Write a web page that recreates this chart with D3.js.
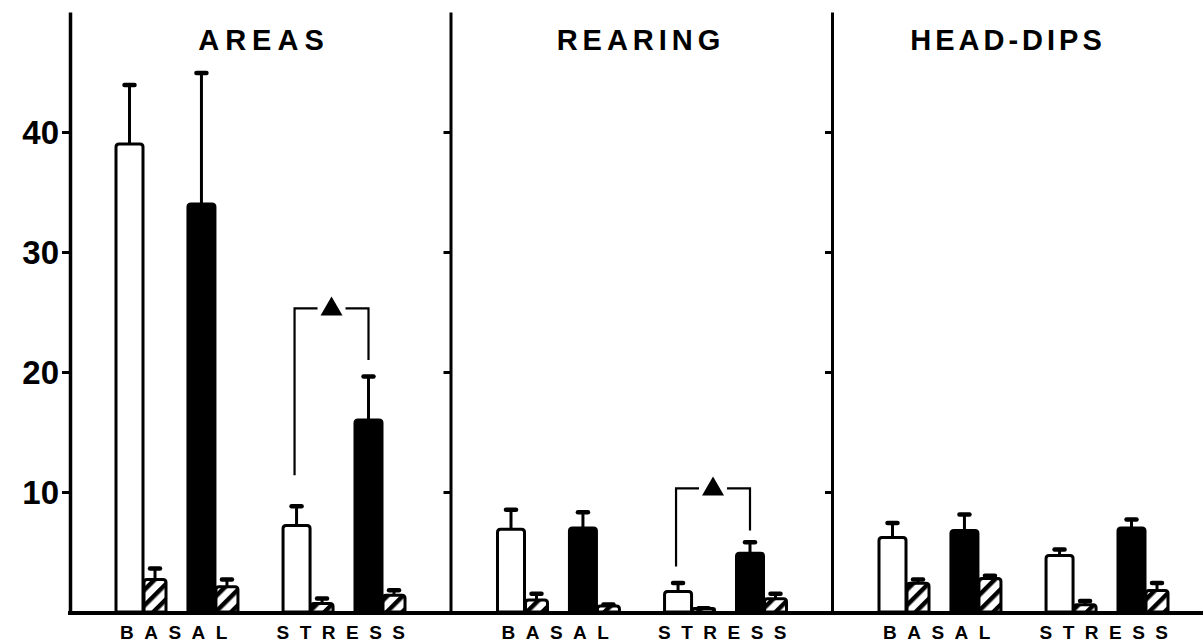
<!DOCTYPE html>
<html><head><meta charset="utf-8">
<script src="https://cdn.jsdelivr.net/npm/d3@7"></script>
<style>html,body{margin:0;padding:0;background:#fff;overflow:hidden} svg{display:block}</style>
</head><body>
<svg id="chart" width="1203" height="644"></svg>
<script>
// ---------- data ----------
const panels = ["AREAS", "REARING", "HEAD-DIPS"];
const groups = ["BASAL", "STRESS"];
const pairs = ["open", "filled"];
const yTicks = [10, 20, 30, 40];
// per group: [open, hatched(open), filled, hatched(filled)]
const areasMean   = [[39, 2.7, 34, 2.1], [7.2, 0.7, 16, 1.4]];
const areasErr    = [[5, 1.0, 11, 0.7], [1.7, 0.5, 3.7, 0.5]];
const rearingMean = [[6.9, 1.0, 7.0, 0.5], [1.7, 0.3, 4.9, 1.1]];
const rearingErr  = [[1.7, 0.6, 1.4, 0.2], [0.8, 0.1, 1.0, 0.5]];
const headMean    = [[6.2, 2.4, 6.8, 2.8], [4.7, 0.6, 7.0, 1.8]];
const headErr     = [[1.3, 0.4, 1.4, 0.3], [0.6, 0.4, 0.8, 0.7]];
// significance brackets: top level, left leg end, right leg end
const bracketPanels = ["AREAS", "REARING"];
const bracketTop    = [25.3, 10.3];
const bracketLeft   = [11.4, 3.8];
const bracketRight  = [21.0, 6.8];

const means = [areasMean, rearingMean, headMean];
const errs  = [areasErr, rearingErr, headErr];

// ---------- layout ----------
const svg = d3.select("#chart");
const y = d3.scaleLinear().domain([0, 50]).range([612, 12]);
const px = d3.scaleBand().domain(panels).range([70, 1214.5]);
const gx = d3.scaleBand().domain(groups).range([46, 335]).paddingInner(0.27);
const cx = d3.scaleBand().domain(pairs).range([0, gx.bandwidth()]).paddingInner(0.305);
const bigW = cx.bandwidth() * 0.54;
const hW = cx.bandwidth() - bigW - 1;

const defs = svg.append("defs");
const pat = defs.append("pattern").attr("id", "hatch")
  .attr("patternUnits", "userSpaceOnUse").attr("width", 11).attr("height", 11)
  .attr("patternTransform", "rotate(45)");
pat.append("rect").attr("width", 11).attr("height", 11).attr("fill", "#fff");
pat.append("line").attr("x1", 2).attr("y1", 0).attr("x2", 2).attr("y2", 11)
  .attr("stroke", "#000").attr("stroke-width", 5);

// build rows
const rows = [];
panels.forEach((p, i) => {
  groups.forEach((g, j) => {
    pairs.forEach((c, k) => {
      const x0 = px(p) + gx(g) + cx(c);
      rows.push({p, g, c, kind: c, x: x0, w: bigW, v: means[i][j][k * 2], e: errs[i][j][k * 2]});
      rows.push({p, g, c, kind: "hatch", x: x0 + bigW + 1, w: hW, v: means[i][j][k * 2 + 1], e: errs[i][j][k * 2 + 1]});
    });
  });
});

function barPath(x, w, v) {
  const y0 = y(0), y1 = y(v), r = Math.min(3, (y0 - y1) / 2);
  return `M${x},${y0} L${x},${y1 + r} Q${x},${y1} ${x + r},${y1} L${x + w - r},${y1} Q${x + w},${y1} ${x + w},${y1 + r} L${x + w},${y0} Z`;
}

// error bars (behind)
const eb = svg.append("g").attr("stroke", "#000");
rows.forEach(d => {
  const xm = d.x + d.w / 2;
  eb.append("line").attr("x1", xm).attr("x2", xm).attr("y1", y(d.v)).attr("y2", y(d.v + d.e))
    .attr("stroke-width", 3);
  eb.append("line").attr("x1", xm - 5).attr("x2", xm + 5).attr("y1", y(d.v + d.e) + 1).attr("y2", y(d.v + d.e) + 1)
    .attr("stroke-width", 4.5).attr("stroke-linecap", "round");
});

// bars
svg.append("g").selectAll("path").data(rows).join("path")
  .attr("d", d => barPath(d.x, d.w, d.v))
  .attr("fill", d => d.kind === "open" ? "#fff" : d.kind === "filled" ? "#000" : "url(#hatch)")
  .attr("stroke", "#000").attr("stroke-width", 3).attr("stroke-linejoin", "round");

// axes
const yAxis = svg.append("g").attr("transform", `translate(${px("AREAS")},0)`)
  .call(d3.axisLeft(y).tickValues(yTicks).tickSize(8).tickSizeOuter(0).tickPadding(3));
yAxis.select(".domain").attr("stroke-width", 3.5);
yAxis.selectAll(".tick line").attr("stroke-width", 3);
yAxis.selectAll(".tick text").attr("font-family", "Liberation Sans, Arial, sans-serif")
  .attr("font-weight", "bold").attr("font-size", 33).attr("fill", "#000").attr("dy", "0.36em");

["REARING", "HEAD-DIPS"].forEach(p => {
  const a = svg.append("g").attr("transform", `translate(${px(p) - 1},0)`)
    .call(d3.axisLeft(y).tickValues(yTicks).tickSize(7).tickSizeOuter(0).tickFormat(""));
  a.select(".domain").attr("stroke-width", 3);
  a.selectAll(".tick line").attr("stroke-width", 3);
});

// baseline
svg.append("line").attr("x1", 68).attr("x2", 1203).attr("y1", y(0) + 1).attr("y2", y(0) + 1)
  .attr("stroke", "#000").attr("stroke-width", 4);

// titles
const titleSpacing = {"AREAS": 6, "REARING": 5, "HEAD-DIPS": 4};
const titleShift = {"AREAS": 0, "REARING": -4, "HEAD-DIPS": -18};
svg.append("g").selectAll("text").data(panels).join("text")
  .attr("x", d => px(d) + 191 + titleShift[d] + titleSpacing[d] / 2)
  .attr("y", 50)
  .attr("text-anchor", "middle")
  .attr("font-family", "Liberation Sans, Arial, sans-serif").attr("font-weight", "bold")
  .attr("font-size", 29).attr("letter-spacing", d => titleSpacing[d])
  .text(d => d);

// group labels
panels.forEach(p => {
  groups.forEach(g => {
    svg.append("text")
      .attr("x", px(p) + gx(g) + gx.bandwidth() / 2 + 2)
      .attr("y", 639)
      .attr("text-anchor", "middle")
      .attr("font-family", "Liberation Sans, Arial, sans-serif").attr("font-weight", "bold")
      .attr("font-size", 19).attr("letter-spacing", 10.5)
      .text(g);
  });
});

// significance brackets
bracketPanels.forEach((p, i) => {
  const xl = px(p) + gx("STRESS") + cx("open") + bigW / 2 - 2;
  const xr = px(p) + gx("STRESS") + cx("filled") + bigW / 2;
  const xm = (xl + xr) / 2, yt = y(bracketTop[i]);
  const gb = svg.append("g").attr("stroke", "#000").attr("stroke-width", 2.2).attr("fill", "none");
  gb.append("path").attr("d", `M${xl},${y(bracketLeft[i])} L${xl},${yt} L${xm - 14},${yt}`);
  gb.append("path").attr("d", `M${xm + 14},${yt} L${xr},${yt} L${xr},${y(bracketRight[i])}`);
  svg.append("path").attr("d", `M${xm},${yt - 12} L${xm + 11},${yt + 7} L${xm - 11},${yt + 7} Z`).attr("fill", "#000");
});
</script>
</body></html>
